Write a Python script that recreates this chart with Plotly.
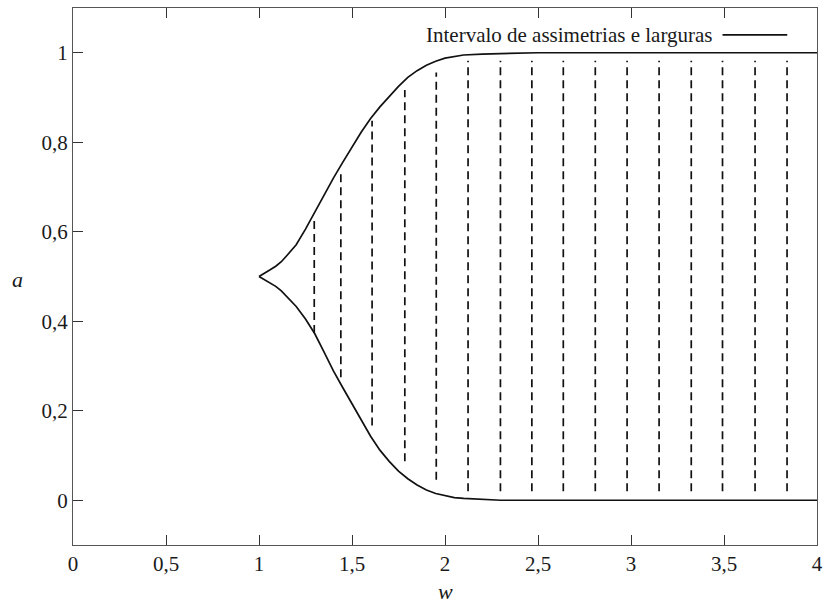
import plotly.graph_objects as go

# Boundary curves of the admissible (width, asymmetry) region
w_curve = [1.0, 1.03, 1.06, 1.09, 1.12, 1.15, 1.2, 1.25, 1.3, 1.35, 1.4, 1.45,
           1.5, 1.55, 1.6, 1.65, 1.7, 1.75, 1.8, 1.85, 1.9, 1.95, 2.0, 2.05,
           2.1, 2.2, 2.3, 2.4, 2.5, 3.0, 4.0]
a_upper = [0.5, 0.507, 0.515, 0.523, 0.533, 0.547, 0.571, 0.606, 0.644, 0.683,
           0.720, 0.755, 0.789, 0.823, 0.853, 0.879, 0.902, 0.925, 0.945, 0.960,
           0.972, 0.981, 0.988, 0.992, 0.995, 0.997, 0.998, 0.999, 1.0, 1.0, 1.0]
a_lower = [0.5, 0.493, 0.486, 0.478, 0.468, 0.455, 0.433, 0.405, 0.372, 0.331,
           0.289, 0.252, 0.216, 0.179, 0.143, 0.112, 0.087, 0.065, 0.048, 0.034,
           0.023, 0.015, 0.010, 0.006, 0.004, 0.0015, 0.0, 0.0, 0.0, 0.0, 0.0]

# Sampled intervals (dashed verticals)
w_interval = [1.297, 1.440, 1.608, 1.784, 1.953, 2.124, 2.298, 2.467, 2.636,
              2.808, 2.979, 3.151, 3.324, 3.492, 3.667, 3.839]
a_interval_min = [0.374, 0.275, 0.167, 0.087, 0.046, 0.020, 0.020, 0.020, 0.020,
                  0.020, 0.020, 0.020, 0.020, 0.020, 0.020, 0.020]
a_interval_max = [0.628, 0.731, 0.848, 0.917, 0.956, 0.982, 0.982, 0.982, 0.982,
                  0.982, 0.982, 0.982, 0.982, 0.982, 0.982, 0.982]

x_ticks = [0, 0.5, 1, 1.5, 2, 2.5, 3, 3.5, 4]
x_tick_labels = ["0", "0,5", "1", "1,5", "2", "2,5", "3", "3,5", "4"]
y_ticks = [0, 0.2, 0.4, 0.6, 0.8, 1]
y_tick_labels = ["0", "0,2", "0,4", "0,6", "0,8", "1"]

legend_text = "Intervalo de assimetrias e larguras"
x_title = "w"
y_title = "a"

FONT = "Liberation Serif"
INK = "#1a1a1a"
FS = 21

fig = go.Figure()

# Dashed vertical segments, one trace with gaps between segments
xs, ys = [], []
for w, lo, hi in zip(w_interval, a_interval_min, a_interval_max):
    xs += [w, w, None]
    ys += [lo, hi, None]
fig.add_trace(go.Scatter(x=xs, y=ys, mode="lines",
                         line=dict(color="#111111", width=1.7, dash="8px,5px"),
                         showlegend=False, hoverinfo="skip"))

for a_vals in (a_upper, a_lower):
    fig.add_trace(go.Scatter(x=w_curve, y=a_vals, mode="lines",
                             line=dict(color="#111111", width=1.7),
                             showlegend=False))

# Key: text followed by a line sample
fig.add_annotation(xref="paper", yref="paper", x=0.863, y=0.95,
                   xanchor="right", yanchor="middle", showarrow=False,
                   text=legend_text, font=dict(family=FONT, size=FS, color=INK))
fig.add_shape(type="line", xref="paper", yref="paper",
              x0=0.873, x1=0.96, y0=0.95, y1=0.95,
              line=dict(color="#111111", width=1.8))

# Axis titles (upright italic letters)
fig.add_annotation(xref="paper", yref="paper", x=0.5, y=-0.086,
                   xanchor="center", yanchor="middle", showarrow=False,
                   text=f"<i>{x_title}</i>",
                   font=dict(family=FONT, size=FS + 1, color=INK))
fig.add_annotation(xref="paper", yref="paper", x=-0.074, y=0.495,
                   xanchor="center", yanchor="middle", showarrow=False,
                   text=f"<i>{y_title}</i>",
                   font=dict(family=FONT, size=FS + 1, color=INK))

axis_common = dict(showgrid=False, zeroline=False, showline=True,
                   linecolor="#555555", linewidth=1.3, ticks="inside",
                   ticklen=10, tickwidth=1.2, tickcolor="#333333",
                   tickfont=dict(family=FONT, size=FS, color=INK))

fig.update_layout(
    width=829, height=605,
    margin=dict(l=73, r=6, t=8, b=60),
    paper_bgcolor="white", plot_bgcolor="white",
    xaxis=dict(range=[0, 4], tickvals=x_ticks, ticktext=x_tick_labels,
               mirror="ticks", **axis_common),
    yaxis=dict(range=[-0.1, 1.1], tickvals=y_ticks, ticktext=y_tick_labels,
               mirror=True, **axis_common),
)

fig.write_html("out.html")
